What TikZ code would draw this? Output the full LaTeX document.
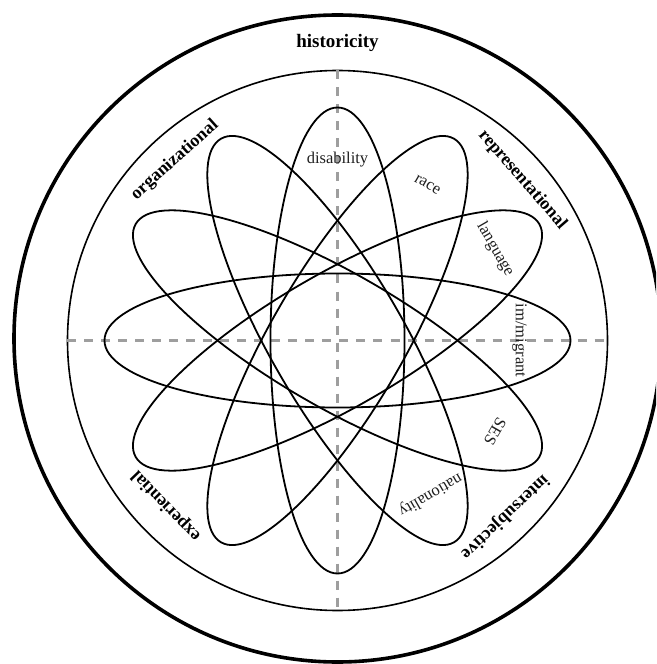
\documentclass[tikz,border=0pt]{standalone}
\usepackage{fontspec}
\setmainfont{Liberation Serif}
\begin{document}
\begin{tikzpicture}[x=1pt,y=1pt,
  ring/.style={draw=black, line width=1.6pt},
  outerring/.style={draw=black, line width=3.6pt},
  orbit/.style={draw=black, line width=1.8pt},
  axisline/.style={draw=black!38, line width=2.2pt, dash pattern=on 9pt off 8pt},
  dimlabel/.style={font=\fontsize{18}{20}\selectfont\bfseries, inner sep=0pt},
  catlabel/.style={font=\fontsize{16.5}{18}\selectfont, text=black!88, inner sep=0pt}]
\fill[white] (-337.5,-323.5) rectangle (318.5,340.5);
\useasboundingbox (-337.5,-323.5) rectangle (318.5,340.5);
\clip (-337.5,-323.5) rectangle (318.5,340.5);
\coordinate (o) at (0,0);
\coordinate (ow) at (180:270);
\coordinate (oe) at (0:270);
\coordinate (on) at (90:270);
\coordinate (os) at (-90:270);
% rings
\draw[outerring] (0,2) circle[radius=323.5];
\draw[ring] (o) circle[radius=270];
% axes
\draw[axisline] (ow) -- (oe);
\draw[axisline] (on) -- (os);
% orbits
\foreach \a in {0,30,60,90,120,150}
  \draw[orbit, rotate=\a] (o) ellipse[x radius=233, y radius=67];
% dimension labels
\node[dimlabel, font=\fontsize{19}{21}\selectfont\bfseries] (hist) at (0,297.5) {historicity};
\node[dimlabel, rotate=42] (org) at (132:243) {organizational};
\node[dimlabel, rotate=-49] (rep) at (41:245) {representational};
\node[dimlabel, rotate=-136.5] (inter) at (-46.5:243) {intersubjective};
\node[dimlabel, rotate=134] (exp) at (224:238) {experiential};
% category labels
\node[catlabel] (dis) at (90:181) {disability};
\node[catlabel, rotate=-30] (rac) at (60:180) {race};
\node[catlabel, rotate=-60] (lan) at (30:182) {language};
\node[catlabel, rotate=-90] (imm) at (0:182) {im/migrant};
\node[catlabel, rotate=-120] (ses) at (-30:182) {SES};
\node[catlabel, rotate=-150] (nat) at (-59:180) {nationality};
\end{tikzpicture}
\end{document}
